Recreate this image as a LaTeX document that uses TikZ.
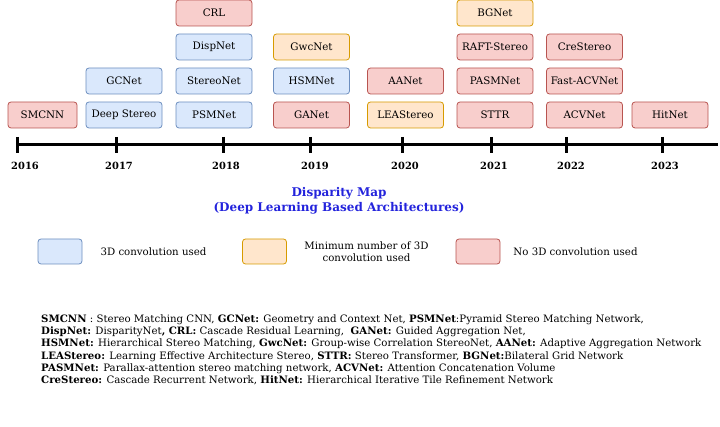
\documentclass[tikz,border=0pt]{standalone}
\usepackage{fontspec}
\setmainfont{DejaVu Serif}
\usepackage{tikz}

\definecolor{blueFill}{HTML}{DAE8FC}
\definecolor{blueLine}{HTML}{6C8EBF}
\definecolor{orangeFill}{HTML}{FFE6CC}
\definecolor{orangeLine}{HTML}{D79B00}
\definecolor{redFill}{HTML}{F8CECC}
\definecolor{redLine}{HTML}{B85450}
\definecolor{titleBlue}{RGB}{35,35,220}

\tikzset{
  model/.style={rounded corners=3pt, line width=0.8pt, minimum width=76pt, minimum height=26pt,
    inner sep=0pt, font=\fontsize{10.3}{12}\selectfont},
  conv3d/.style={model, fill=blueFill, draw=blueLine},
  convmin/.style={model, fill=orangeFill, draw=orangeLine},
  noconv/.style={model, fill=redFill, draw=redLine},
  yearlabel/.style={font=\bfseries\fontsize{9.9}{11}\selectfont},
  legendbox/.style={minimum width=44pt, minimum height=25pt},
  legendtext/.style={font=\fontsize{10.2}{12}\selectfont, align=center},
}

\begin{document}
\begin{tikzpicture}[x=1pt, y=-1pt]%
\useasboundingbox (0, 0) rectangle (720, 427);%
% models, one column per year
\node[noconv, minimum width=69pt] (smcnn) at (42.5, 115) {SMCNN};%
\node[conv3d] (deepstereo) at (124, 115) {Deep Stereo};%
\node[conv3d] (gcnet) at (124, 81) {GCNet};%
\node[conv3d] (psmnet) at (214, 115) {PSMNet};%
\node[conv3d] (stereonet) at (214, 81) {StereoNet};%
\node[conv3d] (dispnet) at (214, 47) {DispNet};%
\node[noconv] (crl) at (214, 13) {CRL};%
\node[noconv] (ganet) at (311.5, 115) {GANet};%
\node[conv3d] (hsmnet) at (311.5, 81) {HSMNet};%
\node[convmin] (gwcnet) at (311.5, 47) {GwcNet};%
\node[convmin] (leastereo) at (405.5, 115) {LEAStereo};%
\node[noconv] (aanet) at (405.5, 81) {AANet};%
\node[noconv] (sttr) at (495, 115) {STTR};%
\node[noconv] (pasmnet) at (495, 81) {PASMNet};%
\node[noconv] (raftstereo) at (495, 47) {RAFT-Stereo};%
\node[convmin] (bgnet) at (495, 13) {BGNet};%
\node[noconv] (acvnet) at (584.5, 115) {ACVNet};%
\node[noconv] (fastacvnet) at (584.5, 81) {Fast-ACVNet};%
\node[noconv] (crestereo) at (584.5, 47) {CreStereo};%
\node[noconv] (hitnet) at (670, 115) {HitNet};%
% timeline
\draw[line width=3pt] (17, 145) -- (718, 145);%
\foreach \tx in {17, 116, 223, 310, 402, 491, 566, 662}%
  \draw[line width=3pt] (\tx, 137) -- (\tx, 153);%
\node[yearlabel] (y2016) at (25, 166) {2016};%
\node[yearlabel] (y2017) at (119, 166) {2017};%
\node[yearlabel] (y2018) at (226, 166) {2018};%
\node[yearlabel] (y2019) at (315, 166) {2019};%
\node[yearlabel] (y2020) at (405, 166) {2020};%
\node[yearlabel] (y2021) at (494, 166) {2021};%
\node[yearlabel] (y2022) at (571, 166) {2022};%
\node[yearlabel] (y2023) at (665, 166) {2023};%
% title
\node[font=\bfseries\fontsize{12}{15}\selectfont, text=titleBlue, align=center] (title) at (339, 200.5)%
  {Disparity Map\\(Deep Learning Based Architectures)};%
% legend
\node[conv3d, legendbox] (legblue) at (60, 251.5) {};%
\node[legendtext] (legbluetext) at (153.5, 252) {3D convolution used};%
\node[convmin, legendbox] (legorange) at (264.5, 251.5) {};%
\node[legendtext] (legorangetext) at (366.5, 252) {Minimum number of 3D\\convolution used};%
\node[noconv, legendbox] (legred) at (478, 251.5) {};%
\node[legendtext] (legredtext) at (575.5, 252) {No 3D convolution used};%
% abbreviations
\node[anchor=north west, align=left, inner sep=0pt, font=\fontsize{10.2}{12.2}\selectfont] (abbrev) at (41, 314.5)%
  {\textbf{SMCNN} : Stereo Matching CNN, \textbf{GCNet:} Geometry and Context Net, \textbf{PSMNet}:Pyramid Stereo Matching Network,\\
   \textbf{DispNet:} DisparityNet\textbf{, CRL:} Cascade Residual Learning,\ \ \textbf{GANet:} Guided Aggregation Net,\\
   \textbf{HSMNet:} Hierarchical Stereo Matching, \textbf{GwcNet:} Group-wise Correlation StereoNet, \textbf{AANet:} Adaptive Aggregation Network\\
   \textbf{LEAStereo:} Learning Effective Architecture Stereo, \textbf{STTR:} Stereo Transformer, \textbf{BGNet:}Bilateral Grid Network\\
   \textbf{PASMNet:} Parallax-attention stereo matching network, \textbf{ACVNet:} Attention Concatenation Volume\\
   \textbf{CreStereo:} Cascade Recurrent Network, \textbf{HitNet:} Hierarchical Iterative Tile Refinement Network};%
\end{tikzpicture}
\end{document}
